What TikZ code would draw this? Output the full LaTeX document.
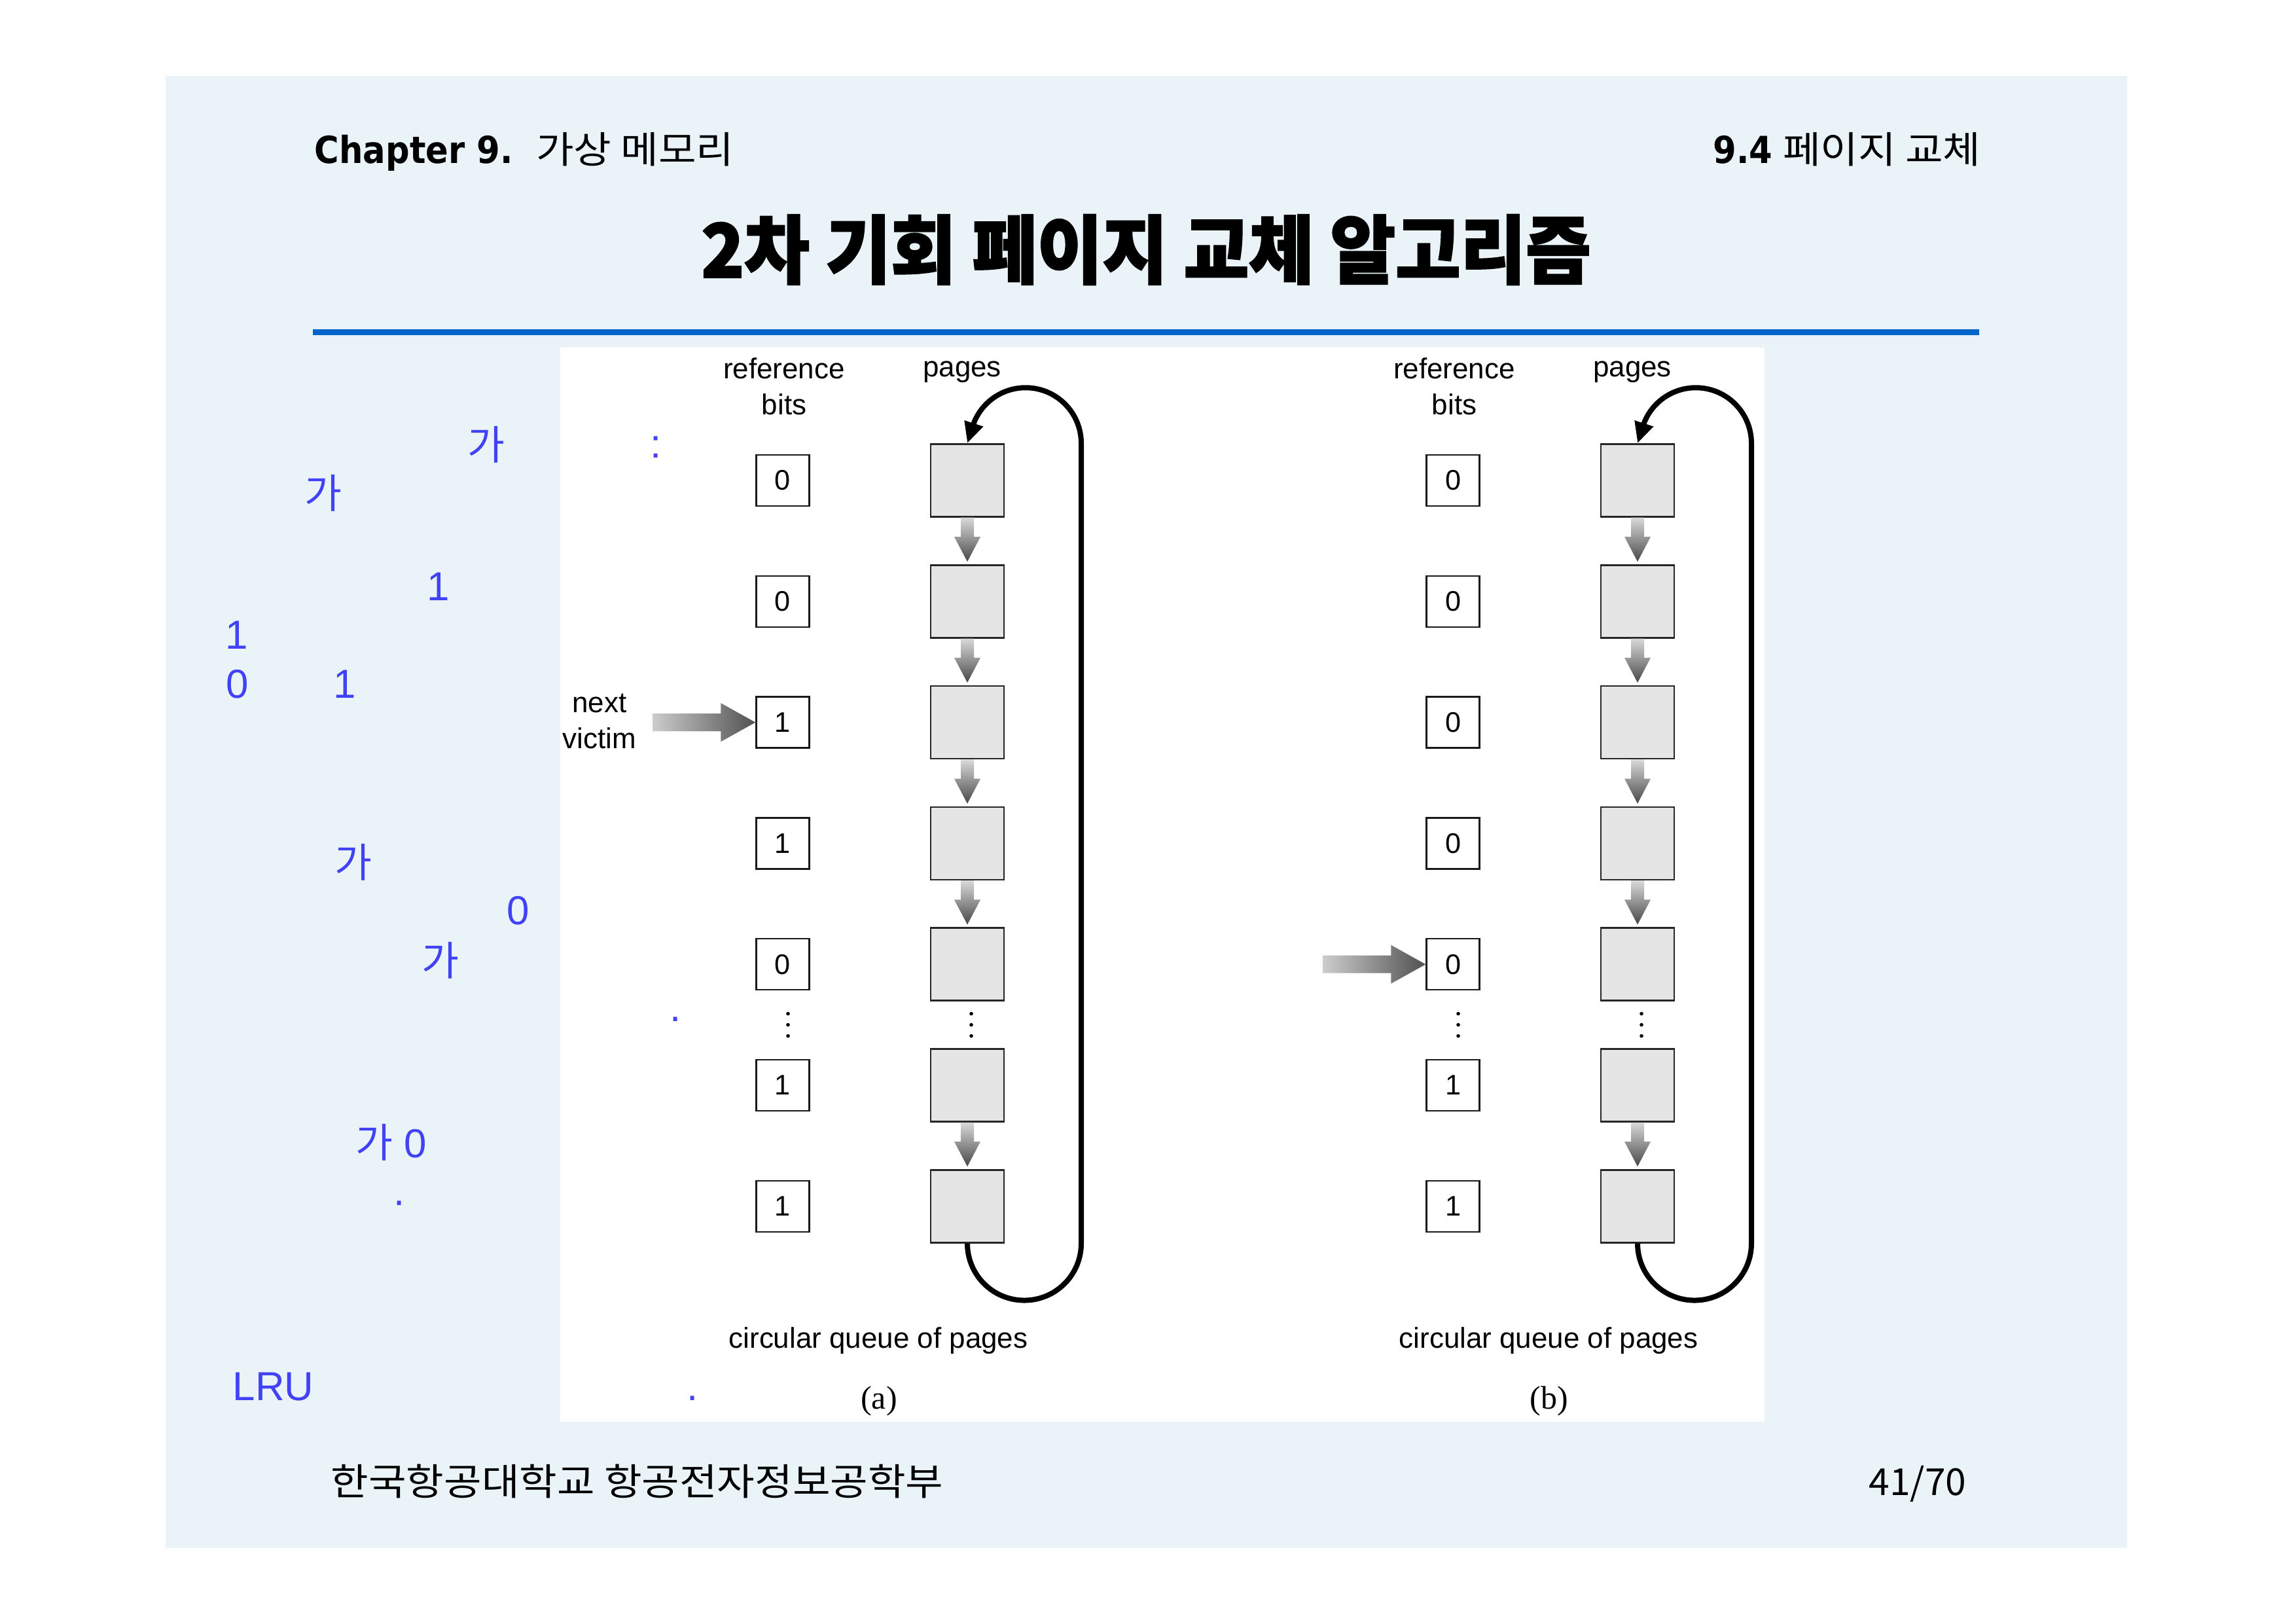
\documentclass[tikz,border=0pt]{standalone}
\usepackage{fontspec}
\setmainfont{Liberation Sans}
\newfontfamily\kr{Noto Sans CJK KR}
\newfontfamily\krwide[FakeStretch=1.1]{Noto Sans CJK KR}
\newfontfamily\krtitle[FakeStretch=0.95,BoldFeatures={FakeBold=2}]{Noto Sans CJK KR}
\newfontfamily\hd[FakeStretch=0.9]{DejaVu Sans}
\newfontfamily\capfont{Liberation Serif}
\usetikzlibrary{arrows.meta,calc}
\definecolor{slidebg}{RGB}{234,244,248}
\definecolor{rulecolor}{RGB}{0,102,204}
\definecolor{notecolor}{RGB}{66,66,245}
\newcommand\kga{{\kr 가}}
\tikzset{
  refbit/.style={draw=black!90, line width=0.7pt, fill=white, minimum width=0.81cm, minimum height=0.78cm, inner sep=0pt, font=\fontsize{12.3}{14}\selectfont},
  pagebox/.style={draw=black!85, line width=0.7pt, fill=black!10, minimum width=1.12cm, minimum height=1.11cm, inner sep=0pt},
  pagearrow/.style={top color=black!15, bottom color=black!72},
  victimarrow/.style={left color=black!20, right color=black!68},
  loopline/.style={line width=0.08cm, -{Triangle[length=0.32cm,width=0.28cm]}},
  figlabel/.style={inner sep=0pt, align=center, font=\fontsize{12.5}{15.6}\selectfont},
  note/.style={text=notecolor, inner sep=0pt, font=\fontsize{17.6}{21}\selectfont},
  slidetext/.style={inner sep=0pt, font=\fontsize{16.2}{19}\selectfont},
}
\begin{document}
\begin{tikzpicture}
\useasboundingbox (0,0) rectangle (35.05,-24.80);
\fill[white] (0,0) rectangle (35.05,-24.80);
\fill[slidebg] (2.53,-1.16) rectangle (32.50,-23.65);
% header, title and rule
\node[slidetext, anchor=base west] (chap) at (4.80,-2.50) {{\hd\bfseries Chapter 9.\ \ }{\krwide 가상 메모리}};
\node[slidetext, anchor=base east] (sect) at (30.27,-2.50) {{\hd\bfseries 9.4} {\krwide 페이지 교체}};
\node[inner sep=0pt, font=\fontsize{32.4}{36}\selectfont] (title) at (17.51,-3.815) {\krtitle\bfseries 2차 기회 페이지 교체 알고리즘};
\draw[rulecolor, line width=0.09cm] (4.78,-5.075) -- (30.24,-5.075);
% figure area
\fill[white] (8.56,-5.31) rectangle (26.96,-21.72);
\foreach \p/\dx/\bits/\vr in {a/0/{0,0,1,1,0,1,1}/3,b/10.24/{0,0,0,0,0,1,1}/5}{
\begin{scope}[xshift=\dx cm]
  \node[figlabel] (bits\p) at (11.98,-5.905) {reference\\bits};
  \node[figlabel, anchor=base] (pages\p) at (14.70,-5.76) {pages};
  \foreach \bit[count=\i] in \bits {
    \node[refbit] (r\p\i) at (11.96,-5.492-1.848*\i) {\bit};
    \node[pagebox] (p\p\i) at (14.78,-5.492-1.848*\i) {};
  }
  \foreach \m in {-1,0,1} {
    \fill ($(r\p5)!.5!(r\p6)+(.08,.17*\m)$) circle (.028);
    \fill ($(p\p5)!.5!(p\p6)+(.06,.17*\m)$) circle (.028);
  }
  \foreach \i/\j in {1/2,2/3,3/4,4/5,6/7}
    \shade[pagearrow] ($(p\p\i.south)+(-.10,0)$) -- ($(p\p\j.north)+(-.10,.42)$) -- ($(p\p\j.north)+(-.20,.42)$) -- ($(p\p\j.north)+(0,.04)$) -- ($(p\p\j.north)+(.20,.42)$) -- ($(p\p\j.north)+(.10,.42)$) -- ($(p\p\i.south)+(.10,0)$) -- cycle;
  \shade[victimarrow] ($(r\p\vr.west)+(-1.57,.135)$) -- ($(r\p\vr.west)+(-.53,.135)$) -- ($(r\p\vr.west)+(-.53,.295)$) -- (r\p\vr.west) -- ($(r\p\vr.west)+(-.53,-.295)$) -- ($(r\p\vr.west)+(-.53,-.135)$) -- ($(r\p\vr.west)+(-1.57,-.135)$) -- cycle;
  \draw[loopline] (p\p7.south) arc[start angle=180, end angle=360, radius=.87] coordinate (lr\p) -- (lr\p |- p\p1.north) arc[start angle=0, end angle=157, radius=.85] -- (p\p1.north);
  \node[figlabel, anchor=base] (queue\p) at (13.42,-20.59) {circular queue of pages};
  \node[inner sep=0pt, anchor=base, font=\capfont\fontsize{14.2}{17}\selectfont] (cap\p) at (13.43,-21.52) {(\p)};
\end{scope}
}
\node[figlabel] (victim) at (9.16,-11.02) {next\\victim};
% blue notes
\foreach \t/\x/\y[count=\n] in {\kga/7.43/6.79, \kga/4.935/7.535, 1/6.70/8.965, 1/3.615/9.70, 0/3.63/10.45, 1/5.27/10.45, \kga/5.40/13.17, 0/7.915/13.915, \kga/6.73/14.675, \kga{} 0/5.98/17.45, ./6.10/18.38, LRU/4.175/21.18, :/10.02/6.83, ./10.32/15.57, ./10.58/21.36}
  \node[note] (note\n) at (\x,-\y) {\t};
% footer
\node[slidetext, anchor=base west] (school) at (5.05,-22.84) {\krwide 한국항공대학교 항공전자정보공학부};
\node[slidetext, anchor=base east] (pageno) at (30.05,-22.84) {\kr 41/70};
\end{tikzpicture}
\end{document}
